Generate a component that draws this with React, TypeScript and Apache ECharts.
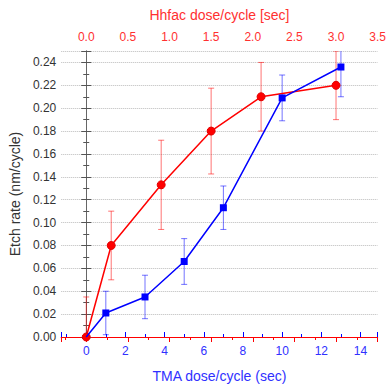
import React, { useEffect, useRef } from "react";
import * as echarts from "echarts";

// TMA series (bottom axis)
const tmaDose = [0, 1, 3, 5, 7, 10, 13];
const tmaRate = [0, 0.021, 0.035, 0.066, 0.113, 0.209, 0.236];
const tmaErr = [0, 0.019, 0.019, 0.02, 0.019, 0.02, 0.026];

// Hhfac series (top axis)
const hfDose = [0, 0.3, 0.9, 1.5, 2.1, 3.0];
const hfRate = [0, 0.08, 0.133, 0.18, 0.21, 0.22];
const hfErr = [0.035, 0.03, 0.039, 0.0375, 0.03, 0.03];

const RED = "#ff0000";
const BLUE = "#0000ff";
const RED_TXT = "#ff3030";
const BLUE_TXT = "#3030ff";
const FONT = "Liberation Sans, Arial, sans-serif";

function errRender(color: string) {
  return (params: any, api: any) => {
    const x = api.value(0);
    const lo = api.value(1);
    const hi = api.value(2);
    const pLo = api.coord([x, lo]);
    const pHi = api.coord([x, hi]);
    const cw = 3;
    const style = { stroke: color, lineWidth: 1, opacity: 0.55 };
    return {
      type: "group",
      children: [
        { type: "line", shape: { x1: pLo[0], y1: pLo[1], x2: pHi[0], y2: pHi[1] }, style },
        { type: "line", shape: { x1: pLo[0] - cw, y1: pLo[1], x2: pLo[0] + cw, y2: pLo[1] }, style },
        { type: "line", shape: { x1: pHi[0] - cw, y1: pHi[1], x2: pHi[0] + cw, y2: pHi[1] }, style },
      ],
    };
  };
}

export default function App() {
  const ref = useRef<HTMLDivElement>(null);
  useEffect(() => {
    if (!ref.current) return;
    const chart = echarts.init(ref.current, null, { renderer: "svg" });
    const labelStyle = { fontFamily: FONT, fontSize: 12 };
    const option: any = {
      animation: false,
      grid: { left: 61, right: 9, top: 51, bottom: 53, containLabel: false },
      xAxis: [
        {
          type: "value",
          position: "bottom",
          min: -1.275,
          max: 14.875,
          splitNumber: 8,
          name: "TMA dose/cycle (sec)",
          nameLocation: "middle",
          nameGap: 32,
          nameTextStyle: { color: BLUE_TXT, fontFamily: FONT, fontSize: 14 },
          axisLine: { show: true, lineStyle: { color: BLUE, width: 1 } },
          axisTick: { show: true, inside: true, length: 5, lineStyle: { color: BLUE } },
          axisLabel: {
            ...labelStyle,
            color: BLUE_TXT,
            margin: 8,
            formatter: (v: number) => (Math.abs(v / 2 - Math.round(v / 2)) < 1e-6 ? String(Math.round(v)) : ""),
          },
          splitLine: { show: false },
        },
        {
          type: "value",
          position: "top",
          min: -0.3,
          max: 3.5,
          splitNumber: 8,
          name: "Hhfac dose/cycle [sec]",
          nameLocation: "middle",
          nameGap: 29,
          nameTextStyle: { color: RED_TXT, fontFamily: FONT, fontSize: 14 },
          axisLine: { show: true, lineStyle: { color: RED, width: 1 } },
          axisTick: { show: true, inside: true, length: 5, lineStyle: { color: RED } },
          axisLabel: {
            ...labelStyle,
            color: RED_TXT,
            margin: 8,
            formatter: (v: number) => (Math.abs(v * 2 - Math.round(v * 2)) < 1e-6 ? v.toFixed(1) : ""),
          },
          splitLine: { show: false },
        },
        {
          type: "value",
          position: "bottom",
          min: -1.275,
          max: 14.875,
          splitNumber: 16,
          axisLine: { show: false },
          axisTick: { show: true, inside: true, length: 3, lineStyle: { color: BLUE } },
          axisLabel: { show: false },
          splitLine: { show: false },
        },
        {
          type: "value",
          position: "top",
          min: -1.2,
          max: 14,
          splitNumber: 15,
          axisLine: { show: false },
          axisTick: { show: true, inside: true, length: 3, lineStyle: { color: RED } },
          axisLabel: { show: false },
          splitLine: { show: false },
        },
      ],
      yAxis: [
        {
          type: "value",
          position: "left",
          min: 0,
          max: 0.25,
          interval: 0.02,
          name: "Etch rate (nm/cycle)",
          nameLocation: "middle",
          nameGap: 37,
          nameTextStyle: { color: "#333", fontFamily: FONT, fontSize: 14 },
          axisLine: { show: true, lineStyle: { color: "#666", width: 1 } },
          axisTick: { show: true, inside: true, length: 5, lineStyle: { color: "#555" } },
          axisLabel: {
            ...labelStyle,
            color: "#333",
            margin: 5,
            formatter: (v: number) => (Math.abs(v * 50 - Math.round(v * 50)) < 1e-6 ? v.toFixed(2) : ""),
          },
          splitLine: { show: true, lineStyle: { color: "#bbb", type: "dotted", width: 1 } },
        },
        {
          type: "value",
          position: "right",
          min: 0,
          max: 0.25,
          interval: 0.02,
          axisLine: { show: true, lineStyle: { color: "#666", width: 1 } },
          axisTick: { show: true, inside: true, length: 5, lineStyle: { color: "#555" } },
          axisLabel: { show: false },
          splitLine: { show: false },
        },
        {
          type: "value",
          position: "left",
          min: 0,
          max: 0.25,
          interval: 0.01,
          axisLine: { show: false },
          axisTick: { show: true, inside: true, length: 3, lineStyle: { color: "#555" } },
          axisLabel: { show: false },
          splitLine: { show: false },
        },
        {
          type: "value",
          position: "right",
          min: 0,
          max: 0.25,
          interval: 0.01,
          axisLine: { show: false },
          axisTick: { show: true, inside: true, length: 3, lineStyle: { color: "#555" } },
          axisLabel: { show: false },
          splitLine: { show: false },
        },
      ],
      series: [
        {
          type: "custom",
          xAxisIndex: 0,
          yAxisIndex: 0,
          renderItem: errRender(BLUE),
          data: tmaDose.slice(1).map((d, i) => [d, tmaRate[i + 1] - tmaErr[i + 1], tmaRate[i + 1] + tmaErr[i + 1]]),
          clip: true,
          z: 1,
        },
        {
          type: "custom",
          xAxisIndex: 1,
          yAxisIndex: 0,
          renderItem: errRender(RED),
          data: hfDose.map((d, i) => [d, Math.max(0, hfRate[i] - hfErr[i]), hfRate[i] + hfErr[i]]),
          clip: true,
          z: 1,
        },
        {
          type: "line",
          xAxisIndex: 0,
          yAxisIndex: 0,
          data: tmaDose.map((d, i) =>
            i === 0 ? { value: [d, tmaRate[i]], symbolSize: 0 } : [d, tmaRate[i]]
          ),
          symbol: "rect",
          symbolSize: 7,
          lineStyle: { color: BLUE, width: 1.5 },
          itemStyle: { color: BLUE },
          clip: true,
          z: 3,
        },
        {
          type: "line",
          xAxisIndex: 1,
          yAxisIndex: 0,
          data: hfDose.map((d, i) => [d, hfRate[i]]),
          symbol: "circle",
          symbolSize: 8,
          showAllSymbol: true,
          lineStyle: { color: RED, width: 1.5 },
          itemStyle: { color: RED, borderColor: "#e00000", borderWidth: 1 },
          clip: false,
          z: 2,
        },
      ],
    };
    chart.setOption(option);
    return () => chart.dispose();
  }, []);
  return (
    <div
      ref={ref}
      style={{ position: "fixed", left: 0, top: 0, width: 389, height: 390, background: "#fff" }}
    />
  );
}
